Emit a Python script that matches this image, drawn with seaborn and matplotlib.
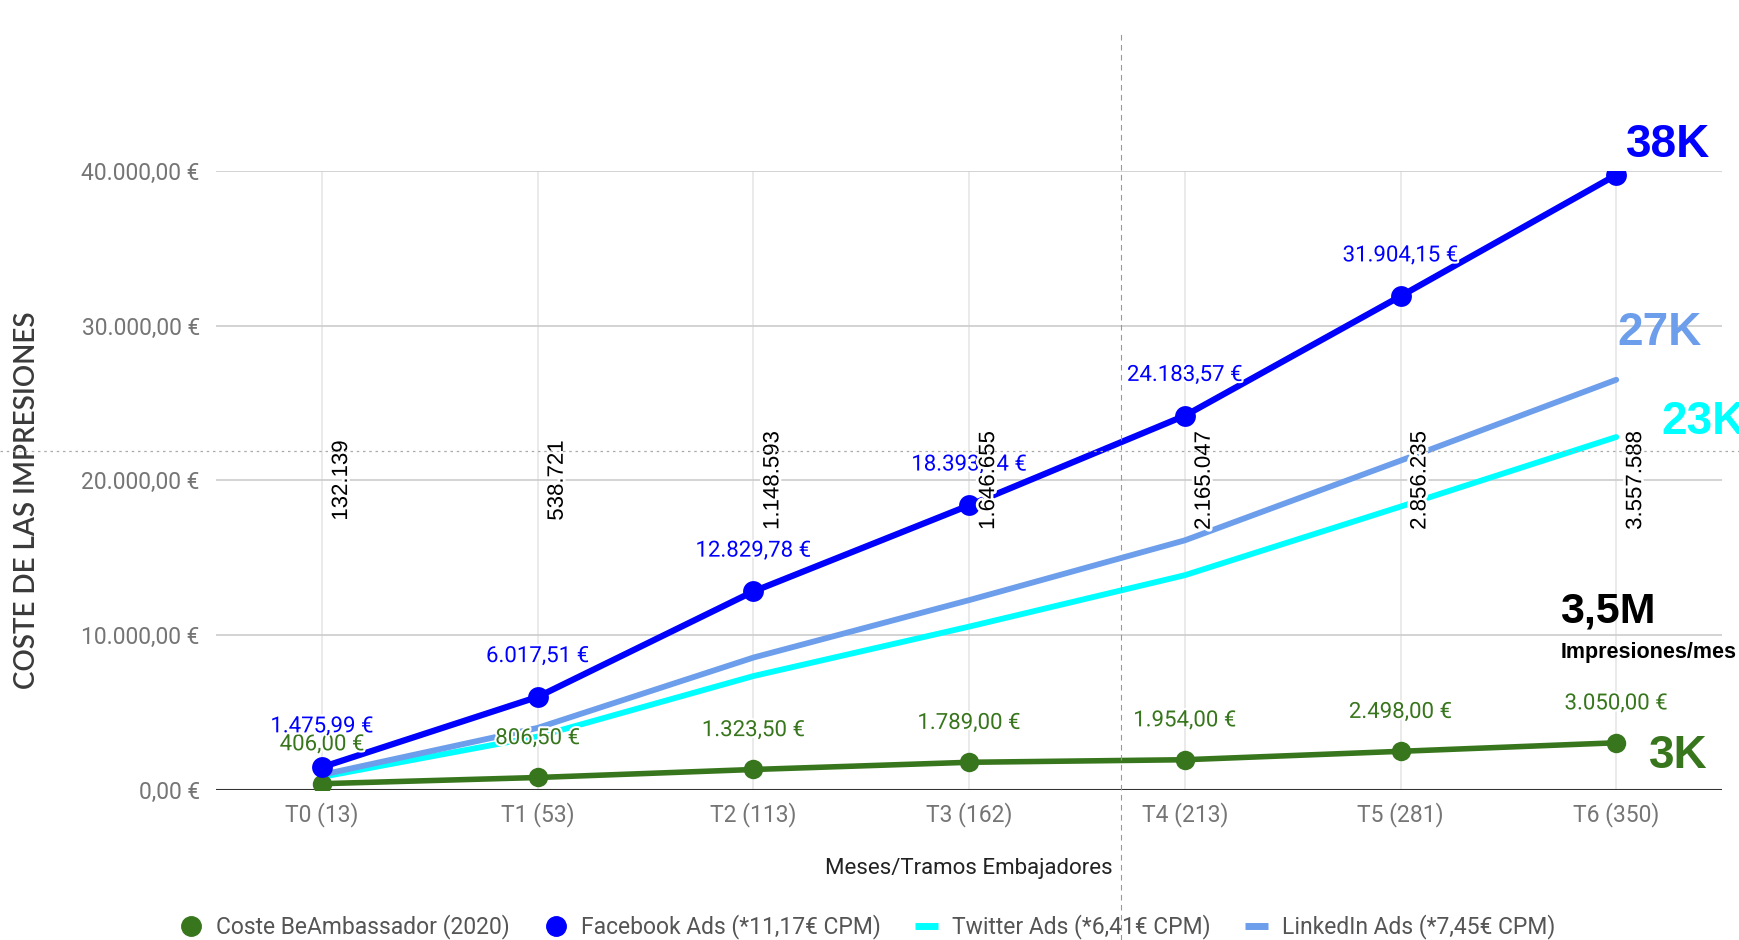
import matplotlib
matplotlib.use("Agg")
import matplotlib.pyplot as plt
import matplotlib.patheffects as pe
from matplotlib.lines import Line2D
import seaborn as sns
import pandas as pd

# Datos del gráfico
tramos = ["T0 (13)", "T1 (53)", "T2 (113)", "T3 (162)", "T4 (213)", "T5 (281)", "T6 (350)"]
impresiones = [132139, 538721, 1148593, 1646655, 2165047, 2856235, 3557588]
coste_beambassador = [406.00, 806.50, 1323.50, 1789.00, 1954.00, 2498.00, 3050.00]
facebook_ads = [1475.99, 6017.51, 12829.78, 18393.14, 24183.57, 31904.15, 39738.26]
twitter_ads = [847.01, 3453.20, 7362.48, 10555.06, 13877.95, 18308.47, 22804.14]
linkedin_ads = [984.44, 4013.47, 8557.02, 12267.58, 16129.60, 21278.95, 26504.03]
y_ticks = [0, 10000, 20000, 30000, 40000]

names = ["Coste BeAmbassador (2020)", "Facebook Ads (*11,17€ CPM)",
         "Twitter Ads (*6,41€ CPM)", "LinkedIn Ads (*7,45€ CPM)"]
colors = {names[0]: "#38761d", names[1]: "#0000ff", names[2]: "#00ffff", names[3]: "#6d9eeb"}


def euro(v):
    s = f"{v:,.2f}"
    return s.replace(",", "X").replace(".", ",").replace("X", ".") + " €"


def miles(v):
    return f"{v:,}".replace(",", ".")


df = pd.DataFrame({
    "x": list(range(len(tramos))) * 4,
    "coste": coste_beambassador + facebook_ads + twitter_ads + linkedin_ads,
    "serie": sum([[n] * len(tramos) for n in names], []),
})

sns.set_theme(style="white")
plt.rcParams['font.family'] = ['Roboto', 'DejaVu Sans']

fig = plt.figure(figsize=(17.4, 9.4), dpi=100)
ax = fig.add_axes([0.1244, 0.1596, 0.8652, 0.6586])
ax.set_facecolor("none")

# grid
for i in range(len(tramos)):
    ax.axvline(i, color="#e6e6e6", lw=1.2, zorder=0)
for t in y_ticks[1:]:
    ax.axhline(t, color="#cccccc", lw=1.2, zorder=0)
ax.axhline(0, color="#333333", lw=1.5, zorder=1)

# lines (draw order: cyan, light blue, green, blue)
sns.lineplot(data=df[df.serie == names[2]], x="x", y="coste", ax=ax, color=colors[names[2]],
             lw=4.2, zorder=2, legend=False)
sns.lineplot(data=df[df.serie == names[3]], x="x", y="coste", ax=ax, color=colors[names[3]],
             lw=4.2, zorder=3, legend=False)
sns.lineplot(data=df[df.serie == names[0]], x="x", y="coste", ax=ax, color=colors[names[0]],
             lw=4, marker="o", markersize=14, markeredgewidth=0, zorder=4, legend=False)
sns.lineplot(data=df[df.serie == names[1]], x="x", y="coste", ax=ax, color=colors[names[1]],
             lw=4.5, marker="o", markersize=15, markeredgewidth=0, zorder=5, legend=False)

halo = [pe.withStroke(linewidth=3, foreground="white")]

# data labels
for i, v in enumerate(coste_beambassador):
    ax.annotate(euro(v), (i, v), xytext=(0, 28), textcoords="offset points", ha="center",
                va="center", fontsize=16, color=colors[names[0]], path_effects=halo, zorder=6)
for i, v in enumerate(facebook_ads[:-1]):
    ax.annotate(euro(v), (i, v), xytext=(0, 29), textcoords="offset points", ha="center",
                va="center", fontsize=16, color=colors[names[1]], path_effects=halo, zorder=6)

# impressions labels (rotated)
for i, v in enumerate(impresiones):
    ax.text(i + 0.09, 20000, miles(v), rotation=90, ha="center", va="center", fontsize=16,
            family="Liberation Sans", color="black",
            path_effects=[pe.withStroke(linewidth=4, foreground="white")], zorder=7)

ax.set_xlim(-0.49, 6.49)
ax.set_ylim(0, 40000)
ax.set_xticks(range(len(tramos)))
ax.set_xticklabels(tramos)
ax.set_yticks(y_ticks)
ax.set_yticklabels([euro(t) for t in y_ticks])
ax.tick_params(axis="both", length=0, labelsize=16.5, colors="#757575")
ax.tick_params(axis="y", pad=12)
ax.tick_params(axis="x", pad=9)
for s in ax.spines.values():
    s.set_visible(False)
ax.set_xlabel("Meses/Tramos Embajadores", fontsize=16, color="#222222", labelpad=22)
ax.set_ylabel("")

fig.text(27 / 1740, 1 - 500 / 940, "COSTE DE LAS IMPRESIONES", rotation=90, ha="center",
         va="center", fontsize=20, family="Lato", fontweight="semibold", color="#3a3a3a")

# big annotations on the right
big = dict(family="Liberation Sans", fontweight="bold", clip_on=False, zorder=8)
ax.text(6.24, 41700, "38K", color=colors[names[1]], fontsize=33, ha="center", va="center", **big)
ax.text(6.20, 29500, "27K", color=colors[names[3]], fontsize=33, ha="center", va="center", **big)
ax.text(6.21, 23800, "23K", color=colors[names[2]], fontsize=33, ha="left", va="center", **big)
ax.text(6.29, 2200, "3K", color=colors[names[0]], fontsize=33, ha="center", va="center", **big)
ax.text(5.74, 11550, "3,5M", color="black", fontsize=31, ha="left", va="center", **big)
ax.text(5.74, 8900, "Impresiones/mes", color="black", fontsize=15.5, ha="left", va="center", **big)

# legend
handles = [
    Line2D([], [], color=colors[names[0]], marker="o", markersize=14, lw=0),
    Line2D([], [], color=colors[names[1]], marker="o", markersize=14, lw=0),
    Line2D([], [], color=colors[names[2]], lw=5, solid_capstyle="butt"),
    Line2D([], [], color=colors[names[3]], lw=5, solid_capstyle="butt"),
]
leg = fig.legend(handles, names, loc="center", bbox_to_anchor=(0.4985, 0.014), ncol=4,
                 frameon=False, fontsize=16.5, handlelength=1.0, handletextpad=0.6,
                 columnspacing=1.5, labelcolor="#555555")

# guide lines
fig.add_artist(Line2D([1121 / 1740, 1121 / 1740], [0, 1 - 33 / 940], transform=fig.transFigure,
                      color="#999999", lw=0.8, ls=(0, (5, 4)), zorder=10))
fig.add_artist(Line2D([0, 1], [1 - 451 / 940, 1 - 451 / 940], transform=fig.transFigure,
                      color="#aaaaaa", lw=0.9, ls=(0, (2, 3)), zorder=10))

fig.savefig("out.png", dpi=100)
